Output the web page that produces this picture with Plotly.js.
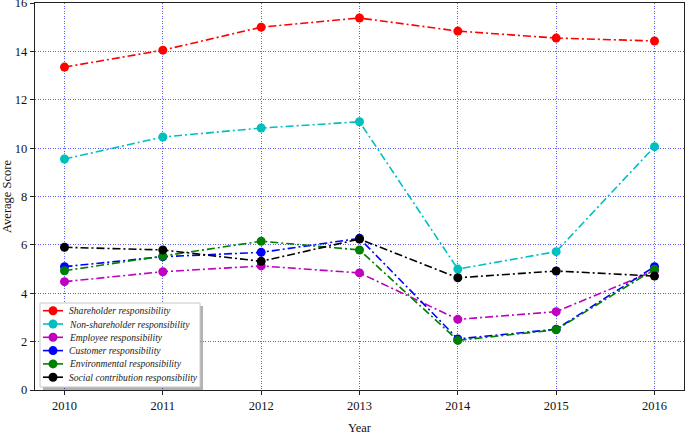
<!DOCTYPE html>
<html><head><meta charset="utf-8">
<script src="https://cdn.plot.ly/plotly-3.0.1.min.js"></script>
<style>body{margin:0;padding:0;background:#fff}#chart{width:685px;height:435px}</style>
</head><body><div id="chart"></div>
<script>
const years = [2010, 2011, 2012, 2013, 2014, 2015, 2016];
const yTicks = [0, 2, 4, 6, 8, 10, 12, 14, 16];
const shareholder = [13.35, 14.05, 15.0, 15.38, 14.84, 14.55, 14.43];
const nonShareholder = [9.55, 10.46, 10.83, 11.09, 5.0, 5.72, 10.06];
const employee = [4.48, 4.89, 5.13, 4.84, 2.92, 3.24, 4.93];
const customer = [5.10, 5.51, 5.69, 6.27, 2.11, 2.51, 5.10];
const environmental = [4.93, 5.53, 6.15, 5.79, 2.05, 2.49, 4.99];
const social = [5.90, 5.79, 5.32, 6.24, 4.64, 4.92, 4.71];

const seriesNames = ['Shareholder responsibility','Non-shareholder responsibility','Employee responsibility','Customer responsibility','Environmental responsibility','Social contribution responsibility'];
const seriesData = [shareholder, nonShareholder, employee, customer, environmental, social];
const colors = ['#ff0000','#00bfbf','#bf00bf','#0000ff','#008000','#000000'];

const SERIF = 'Liberation Serif, Times New Roman, serif';
const dashPattern = '8px,3px,2px,3px';

const traces = seriesData.map((d,i)=>({
  x: years, y: d, name: seriesNames[i], type:'scatter', mode:'lines+markers', showlegend:false,
  line:{color:colors[i], width:1.6, dash:dashPattern},
  marker:{color:colors[i], size:9}
}));

// plot area geometry (pixels) for the matplotlib-style legend
const M = {l:35, r:1, t:3, b:45}, W = 685, H = 435;
const pw = W - M.l - M.r, ph = H - M.t - M.b;
const px = x => (x - M.l) / pw;
const py = y => (H - M.b - y) / ph;

const shapes = [];
const annotations = [];
const box = {x0:40, x1:200, y0:303, y1:387};
shapes.push({type:'rect', xref:'paper', yref:'paper', x0:px(box.x0+3), x1:px(box.x1+3), y0:py(box.y1+3), y1:py(box.y0+3),
  fillcolor:'rgba(0,0,0,0.3)', line:{width:0}, layer:'above'});
shapes.push({type:'rect', xref:'paper', yref:'paper', x0:px(box.x0), x1:px(box.x1), y0:py(box.y1), y1:py(box.y0),
  fillcolor:'#ffffff', line:{color:'#c8c8c8', width:1}, layer:'above'});
seriesNames.forEach((name,i)=>{
  const cy = 310.7 + i*13.3;
  shapes.push({type:'line', xref:'paper', yref:'paper', x0:px(43), x1:px(63), y0:py(cy), y1:py(cy),
    line:{color:colors[i], width:1.6}, layer:'above'});
  shapes.push({type:'circle', xref:'paper', yref:'paper', x0:px(48.5), x1:px(57.5), y0:py(cy+4.5), y1:py(cy-4.5),
    fillcolor:colors[i], line:{color:colors[i], width:0}, layer:'above'});
  annotations.push({xref:'paper', yref:'paper', x:px(67), y:py(cy), xanchor:'left', yanchor:'middle', showarrow:false,
    text:'<i>'+name+'</i>', font:{family:SERIF, size:9.6, color:'#222'}});
});

const layout = {
  width:W, height:H,
  margin:M,
  paper_bgcolor:'#fff', plot_bgcolor:'#fff',
  font:{family:SERIF, size:12, color:'#000'},
  showlegend:false,
  shapes: shapes, annotations: annotations,
  xaxis:{range:[2009.7,2016.3], tickvals:years, ticktext:years.map(String), showline:true, linecolor:'#222', linewidth:1.3, mirror:true,
    ticks:'outside', ticklen:4, tickcolor:'#222', showgrid:true, gridcolor:'rgba(40,40,255,0.75)', griddash:'1px,1.5px', gridwidth:1, zeroline:false,
    tickfont:{family:SERIF, size:12.5, color:'#111'}, title:{text:'Year', font:{family:SERIF, size:12.5, color:'#111'}, standoff:20}},
  yaxis:{range:[0,16], tickvals:yTicks, ticktext:yTicks.map(String), showline:true, linecolor:'#222', linewidth:1.3, mirror:true,
    ticks:'outside', ticklen:4, tickcolor:'#222', showgrid:true, gridcolor:'rgba(40,40,255,0.75)', griddash:'1px,1.5px', gridwidth:1, zeroline:false,
    ticklabeloverflow:'allow', automargin:false,
    tickfont:{family:SERIF, size:12.5, color:'#111'}, title:{text:'Average Score', font:{family:SERIF, size:12.5, color:'#111'}, standoff:8}}
};
Plotly.newPlot('chart', traces, layout, {displayModeBar:false, staticPlot:true});
</script></body></html>
